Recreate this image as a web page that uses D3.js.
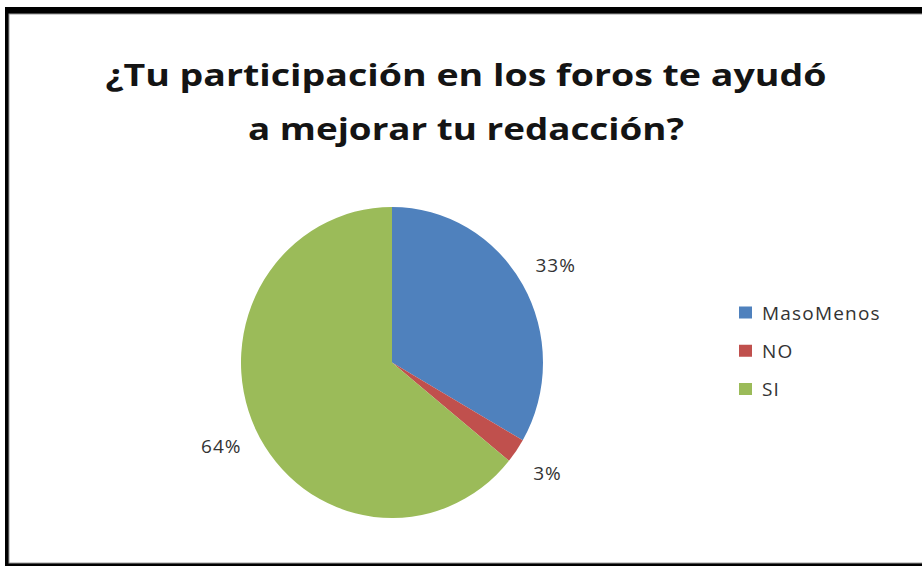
<!DOCTYPE html>
<html>
<head>
<meta charset="utf-8">
<script src="https://cdn.jsdelivr.net/npm/d3@7"></script>
<style>
  html, body { margin: 0; padding: 0; background: #fff; overflow: hidden; }
  svg { display: block; }
</style>
</head>
<body>
<svg id="chart" width="922" height="566"></svg>
<script>
const titleLines = ["¿Tu participación en los foros te ayudó", "a mejorar tu redacción?"];
const categories = ["MasoMenos", "NO", "SI"];
const values = [13, 1, 25];
const labels = ["33%", "3%", "64%"];
const colors = ["#4F81BD", "#C0504D", "#9BBB59"];

const W = 922, H = 566;
const svg = d3.select("#chart");

// frame
svg.append("rect").attr("x", 5).attr("y", 7).attr("width", W + 40).attr("height", H).attr("fill", "#000");
svg.append("rect").attr("x", 9).attr("y", 14).attr("width", W + 40).attr("height", 549).attr("fill", "#fff")
  .attr("stroke", "#9a9a9a").attr("stroke-width", 1);

// title
const titleFont = "'Open Sans', Lato, sans-serif";
const titleX = 466;
const titleY = [86, 140];
const titleW = [721, 436];
titleLines.forEach((t, i) => {
  svg.append("text")
    .attr("x", titleX).attr("y", titleY[i])
    .attr("text-anchor", "middle")
    .attr("font-family", titleFont).attr("font-weight", 700)
    .attr("font-size", 31).attr("fill", "#141414")
    .attr("textLength", titleW[i]).attr("lengthAdjust", "spacingAndGlyphs")
    .text(t);
});

// pie
const cx = 392, cy = 362.5, r = 151, sy = 1.03;
const pie = d3.pie().value(d => d).sort(null);
const arcs = pie(values);
const arc = d3.arc().innerRadius(0).outerRadius(r);
const g = svg.append("g").attr("transform", `translate(${cx},${cy}) scale(1,${sy})`);
g.selectAll("path").data(arcs).join("path")
  .attr("d", arc)
  .attr("fill", (d, i) => colors[i]);

// labels
const labelArc = d3.arc().innerRadius(189).outerRadius(189);
const labelFont = "'Open Sans', sans-serif";
svg.selectAll("text.lbl").data(arcs).join("text")
  .attr("class", "lbl")
  .attr("x", d => cx + labelArc.centroid(d)[0])
  .attr("y", d => cy + labelArc.centroid(d)[1] * sy + 7)
  .attr("text-anchor", "middle")
  .attr("font-family", labelFont).attr("font-size", 19)
  .attr("letter-spacing", 1)
  .attr("fill", "#333")
  .text((d, i) => labels[i]);

// legend
const legY = d3.scalePoint().domain(categories).range([312.5, 389]);
const leg = svg.append("g");
categories.forEach((c, i) => {
  leg.append("rect")
    .attr("x", 739).attr("y", legY(c) - 6)
    .attr("width", 13).attr("height", 12)
    .attr("fill", colors[i]);
  leg.append("text")
    .attr("x", 762).attr("y", legY(c) + 7)
    .attr("font-family", labelFont).attr("font-size", 19)
    .attr("letter-spacing", 1.2)
    .attr("fill", "#333")
    .text(c);
});
</script>
</body>
</html>
